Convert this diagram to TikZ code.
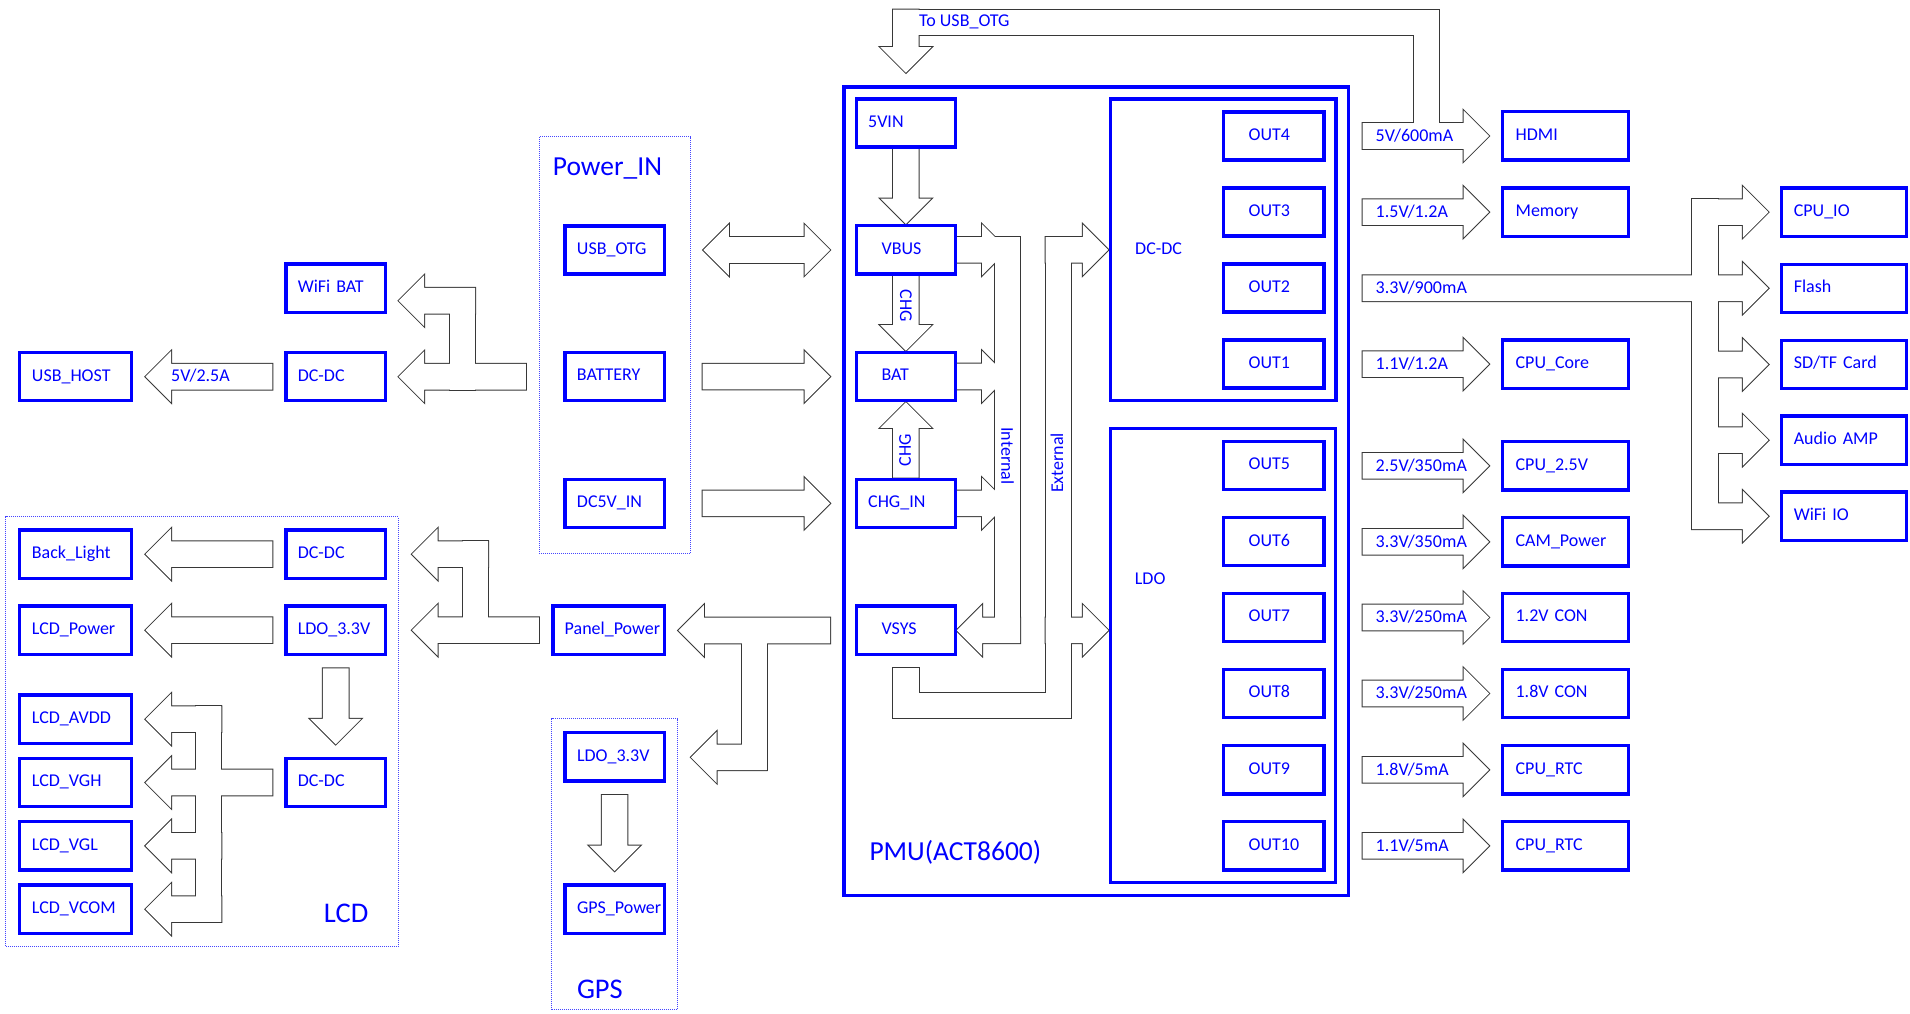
\documentclass[tikz,border=0pt]{standalone}
\usepackage{fontspec}
\setmainfont{Carlito}
\usetikzlibrary{calc}
\hyphenpenalty=10000
\exhyphenpenalty=10000
\definecolor{pb}{RGB}{0,0,255}
\definecolor{db}{RGB}{70,70,255}
\definecolor{ag}{RGB}{55,55,55}
\newcommand\fsz[1]{\fontsize{#1}{#1}\selectfont}
\def\sh{12.8}\def\hh{25.5}\def\hl{25.5}
\newcommand\arrR[3]{(#1,#3-\sh) -- (#2-\hl,#3-\sh) -- (#2-\hl,#3-\hh) -- (#2,#3) -- (#2-\hl,#3+\hh) -- (#2-\hl,#3+\sh) -- (#1,#3+\sh) -- cycle}
\newcommand\arrL[3]{(#1,#3-\sh) -- (#2+\hl,#3-\sh) -- (#2+\hl,#3-\hh) -- (#2,#3) -- (#2+\hl,#3+\hh) -- (#2+\hl,#3+\sh) -- (#1,#3+\sh) -- cycle}
\newcommand\arrD[3]{(#1-\sh,#2) -- (#1-\sh,#3-\hl) -- (#1-\hh,#3-\hl) -- (#1,#3) -- (#1+\hh,#3-\hl) -- (#1+\sh,#3-\hl) -- (#1+\sh,#2) -- cycle}
\newcommand\arrU[3]{(#1-\sh,#2) -- (#1-\sh,#3+\hl) -- (#1-\hh,#3+\hl) -- (#1,#3) -- (#1+\hh,#3+\hl) -- (#1+\sh,#3+\hl) -- (#1+\sh,#2) -- cycle}
\newcommand\allarrows[1]{%
% Power_IN -> WiFi BAT / DC-DC
\path[#1] \arrL{475}{398.7}{300.7};
\path[#1] (449.6,287.9) rectangle (475,389.5);
\path[#1] \arrL{525.9}{398.7}{376.7};
% Panel_Power -> DC-DC / LDO_3.3V
\path[#1] \arrL{488}{412}{554.15};
\path[#1] (462.5,541.35) rectangle (488,642.95);
\path[#1] \arrL{538.8}{412}{630.15};
% -> Panel_Power / GPS
\path[#1] \arrL{830}{678.3}{630.5};
\path[#1] (741.7,617.7) rectangle (766.7,770.1);
\path[#1] \arrL{766.7}{691}{757.3};
% LCD DC-DC -> outputs
\path[#1] \arrL{221.4}{145.5}{719.15};
\path[#1] \arrL{272.3}{145.5}{782.5};
\path[#1] \arrL{221.4}{145.5}{845.85};
\path[#1] \arrL{221.4}{145.5}{909.15};
\path[#1] (195.5,706.35) rectangle (221.4,921.95);
% 3.3V/900mA bus
\path[#1] \arrR{1362.5}{1768.4}{288.25};
\path[#1] (1692,199.35) rectangle (1717.5,529);
\foreach \yy in {212.15,364.5,440.15,516.2}{\path[#1] \arrR{1692}{1768.4}{\yy};}
% HDMI and To USB_OTG
\path[#1] \arrR{1362.5}{1489}{136};
\path[#1] (1413.5,9.6) rectangle (1438.5,136);
\path[#1] (893.1,9.6) rectangle (1438.5,34.6);
\path[#1] \arrD{905.9}{9.6}{72.7};
% PMU internal vertical arrows
\path[#1] \arrD{905.85}{148.7}{224};
\path[#1] \arrD{905.85}{275.7}{350.7};
\path[#1] \arrU{905.85}{477.7}{402.3};
% Power_IN -> PMU
\path[#1] (703.3,250) -- (728.8,224.5) -- (728.8,237.2) -- (804.5,237.2) -- (804.5,224.5) -- (830,250) -- (804.5,275.5) -- (804.5,262.8) -- (728.8,262.8) -- (728.8,275.5) -- cycle;
\path[#1] \arrR{702.7}{830}{376.65};
\path[#1] \arrR{702.7}{830}{503.35};
% left single arrows
\path[#1] \arrL{272.3}{145.5}{376.7};
\path[#1] \arrL{272.3}{145.5}{554.15};
\path[#1] \arrL{272.3}{145.5}{630.15};
\path[#1] \arrD{335.7}{668.3}{744.3};
\path[#1] \arrD{614.6}{795}{871};
% right single arrows
\foreach \yy in {212.15,364.1,465.9,541.85,617.5,693.5,769.85,845.85}{\path[#1] \arrR{1362.5}{1489}{\yy};}
% Internal bus
\path[#1] \arrR{957}{1007.6}{249.85};
\path[#1] \arrR{957}{1007.6}{376.5};
\path[#1] \arrR{957}{1007.6}{503.35};
\path[#1] (995,237.05) rectangle (1020,643.1);
\path[#1] \arrL{1020}{956.7}{630.3};
% External bus
\path[#1] (1045.7,237.05) rectangle (1071,718.3);
\path[#1] \arrR{1045.7}{1108.3}{249.85};
\path[#1] \arrR{1045.7}{1108.3}{630.3};
\path[#1] (893.3,693.3) rectangle (1071,718.3);
\path[#1] (893.3,668.3) rectangle (919,718.3);
}
\tikzset{
 bx/.style={draw=pb, line width=3.3pt, text=pb, inner ysep=0pt, minimum height=48.2pt, text height=12pt, text depth=3.4pt, align=left, font=\fsz{18}},
 bA/.style={bx, inner xsep=11.95pt, text width=75.4pt},
 bB/.style={bx, inner xsep=25.35pt, text width=48.6pt},
 bC/.style={bx, inner xsep=12.35pt, text width=87pt},
 bO/.style={bx, inner xsep=25.05pt, text width=50.1pt},
 bR/.style={bx, inner xsep=12.95pt, text width=99.8pt},
 bF/.style={bx, inner xsep=12.15pt, text width=100.4pt},
 bP/.style={bx, inner xsep=11.75pt, text width=87.9pt},
 grp/.style={draw=db, densely dotted, line width=1pt, inner sep=0pt},
 blk/.style={draw=pb, inner sep=0pt},
 lbl/.style={text=pb, inner sep=0pt, font=\fsz{18}},
}
\begin{document}
\begin{tikzpicture}[x=1pt,y=-1pt]
\useasboundingbox (0,0) rectangle (1910,1013);
% block arrows: union outline
\allarrows{draw=ag, line width=2pt}
\allarrows{fill=white}
% containers
\node[blk, line width=3.6pt, minimum width=504.7pt, minimum height=808.4pt] (pmu) at (1096.25,491.3) {};
\node[blk, line width=3.3pt, minimum width=225.6pt, minimum height=301.7pt] (dcdcbig) at (1223.05,249.8) {};
\node[blk, line width=3.3pt, minimum width=225.2pt, minimum height=454.3pt] (ldobig) at (1222.95,655.5) {};
\node[grp, minimum width=151.2pt, minimum height=417pt] (powerin) at (614.9,345) {};
\node[grp, minimum width=392.3pt, minimum height=429.7pt] (lcd) at (202.05,731.65) {};
\node[grp, minimum width=125.7pt, minimum height=290.7pt] (gps) at (614.65,864.15) {};
% left boxes
\node[bC] (usbhost) at (75.45,376.7) {USB\_HOST};
\node[bA] (wifibat) at (335.5,288.15) {WiFi BAT};
\node[bA] (dcdca) at (335.5,376.7) {DC-DC};
\node[bA] (usbotg) at (614.65,250) {USB\_OTG};
\node[bA] (battery) at (614.65,376.65) {BATTERY};
\node[bA] (dc5vin) at (614.65,503.35) {DC5V\_IN};
\node[bC] (backlight) at (75.45,554.15) {Back\_Light};
\node[bC] (lcdpower) at (75.45,630.15) {LCD\_Power};
\node[bC] (lcdavdd) at (75.45,719.15) {LCD\_AVDD};
\node[bC] (lcdvgh) at (75.45,782.5) {LCD\_VGH};
\node[bC] (lcdvgl) at (75.45,845.85) {LCD\_VGL};
\node[bC] (lcdvcom) at (75.45,909.15) {LCD\_VCOM};
\node[bA] (dcdcb) at (335.5,554.15) {DC-DC};
\node[bA] (ldoa) at (335.5,630.15) {LDO\_3.3V};
\node[bA] (dcdcc) at (335.5,782.5) {DC-DC};
\node[bP] (panel) at (608.65,630.15) {Panel\_Power};
\node[bA] (gpsldo) at (614.7,756.85) {LDO\_3.3V};
\node[bA] (gpspower) at (614.7,909.15) {GPS\_Power};
% PMU boxes
\node[bA] (vin5) at (905.85,123) {5VIN};
\node[bB] (vbus) at (905.85,249.85) {VBUS};
\node[bB] (bat) at (905.85,376.5) {BAT};
\node[bA] (chgin) at (905.85,503.35) {CHG\_IN};
\node[bB] (vsys) at (905.85,630.15) {VSYS};
\node[bO] (out4) at (1273.75,136) {OUT4};
\node[bO] (out3) at (1273.75,212) {OUT3};
\node[bO] (out2) at (1273.75,288) {OUT2};
\node[bO] (out1) at (1273.75,364) {OUT1};
\node[bO] (out5) at (1273.75,465.5) {OUT5};
\node[bO] (out6) at (1273.75,541.7) {OUT6};
\node[bO] (out7) at (1273.75,617.5) {OUT7};
\node[bO] (out8) at (1273.75,693.5) {OUT8};
\node[bO] (out9) at (1273.75,769.85) {OUT9};
\node[bO] (out10) at (1273.75,845.85) {OUT10};
% right boxes
\node[bR] (hdmi) at (1565.5,135.9) {HDMI};
\node[bR] (memory) at (1565.5,212.15) {Memory};
\node[bR] (cpucore) at (1565.5,364.1) {CPU\_Core};
\node[bR] (cpu25) at (1565.5,465.9) {CPU\_2.5V};
\node[bR] (campower) at (1565.5,541.85) {CAM\_Power};
\node[bR] (con12) at (1565.5,617.5) {1.2V CON};
\node[bR] (con18) at (1565.5,693.5) {1.8V CON};
\node[bR] (rtca) at (1565.5,769.85) {CPU\_RTC};
\node[bR] (rtcb) at (1565.5,845.85) {CPU\_RTC};
\node[bF] (cpuio) at (1844,212.15) {CPU\_IO};
\node[bF] (flash) at (1844,288.25) {Flash};
\node[bF] (sdtf) at (1844,364.5) {SD/TF Card};
\node[bF] (audio) at (1844,440.15) {Audio AMP};
\node[bF] (wifiio) at (1844,516.2) {WiFi IO};
% titles and labels
\node[lbl, font=\fsz{27.5}, anchor=base west] (tpowerin) at (552.7,175) {Power\_IN};
\node[lbl, font=\fsz{28.5}, anchor=base west] (tlcd) at (323.7,922.7) {LCD};
\node[lbl, font=\fsz{28.5}, anchor=base west] (tgps) at (576.8,998.3) {GPS};
\node[lbl, font=\fsz{27.5}, anchor=base west] (tpmu) at (869.3,860.7) {PMU(ACT8600)};
\node[lbl, anchor=base west] (tdcdc) at (1135,254) {DC-DC};
\node[lbl, anchor=base west] (tldo) at (1134.7,584) {LDO};
\node[lbl, anchor=base west] (ttousb) at (919,26.5) {To USB\_OTG};
\node[lbl, rotate=-90] (tchga) at (906,306) {CHG};
\node[lbl, rotate=90] (tchgb) at (905,450) {CHG};
\node[lbl, rotate=-90] (tint) at (1007.5,456) {Internal};
\node[lbl, rotate=90] (lext) at (1057,463) {External};
\node[lbl, anchor=base west] (v0) at (171,381.9) {5V/2.5A};
\node[lbl, anchor=base west] (v1) at (1375.5,141.2) {5V/600mA};
\node[lbl, anchor=base west] (v2) at (1375.5,217.35) {1.5V/1.2A};
\node[lbl, anchor=base west] (v3) at (1375.5,293.45) {3.3V/900mA};
\node[lbl, anchor=base west] (v4) at (1375.5,369.3) {1.1V/1.2A};
\node[lbl, anchor=base west] (v5) at (1375.5,471.1) {2.5V/350mA};
\node[lbl, anchor=base west] (v6) at (1375.5,547.05) {3.3V/350mA};
\node[lbl, anchor=base west] (v7) at (1375.5,622.7) {3.3V/250mA};
\node[lbl, anchor=base west] (v8) at (1375.5,698.7) {3.3V/250mA};
\node[lbl, anchor=base west] (v9) at (1375.5,775.05) {1.8V/5mA};
\node[lbl, anchor=base west] (v10) at (1375.5,851.05) {1.1V/5mA};
\end{tikzpicture}
\end{document}
